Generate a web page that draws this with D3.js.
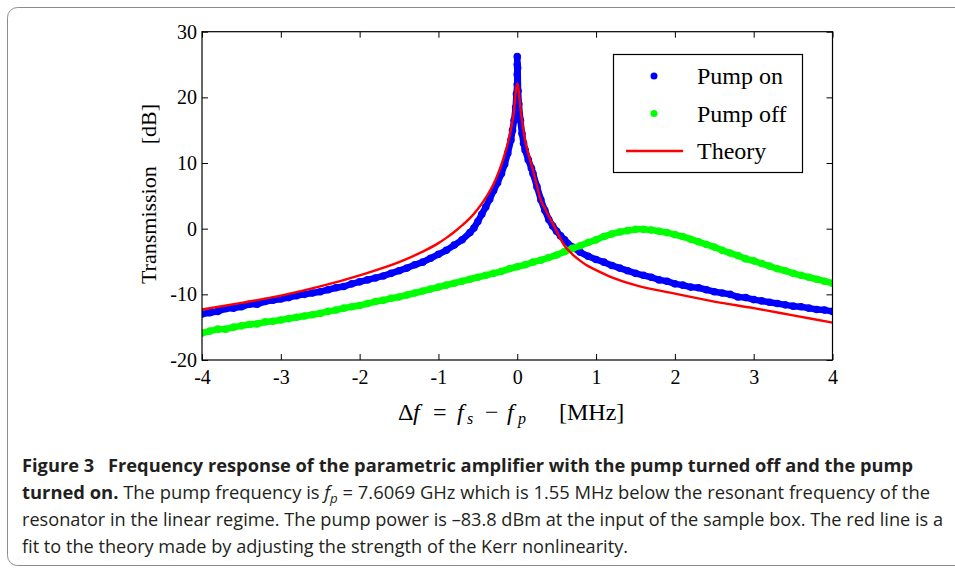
<!DOCTYPE html>
<html>
<head>
<meta charset="utf-8">
<script src="https://cdn.jsdelivr.net/npm/d3@7"></script>
<style>
  body { margin: 0; background: #fff; }
  svg { display: block; }
  .tick text { font-family: "Liberation Serif", "DejaVu Serif", serif; font-size: 20px; fill: #000; }
  .tick line { stroke: #000; }
</style>
</head>
<body>
<svg id="chart"></svg>
<script>
// tick values
const xTicks = [-4, -3, -2, -1, 0, 1, 2, 3, 4];
const yTicks = [-20, -10, 0, 10, 20, 30];

// Pump on (measured), frequency offset in MHz and transmission in dB
const pumpOnFreq = [-4.0, -3.9, -3.8, -3.7, -3.6, -3.5, -3.4, -3.3, -3.2, -3.1, -3.0, -2.9, -2.8, -2.7, -2.6, -2.5, -2.4, -2.3, -2.2, -2.1,
  -2.0, -1.9, -1.8, -1.7, -1.6, -1.5, -1.4, -1.3, -1.2, -1.1, -1.0, -0.9, -0.8, -0.7, -0.6, -0.55, -0.5, -0.45, -0.4, -0.35,
  -0.3, -0.25, -0.2, -0.16, -0.12, -0.08, -0.06, -0.04, -0.02, -0.01, 0, 0, 0, 0, 0.005, 0.01, 0.02, 0.04, 0.06, 0.08,
  0.1, 0.14, 0.18, 0.2, 0.25, 0.3, 0.35, 0.4, 0.45, 0.5, 0.55, 0.6, 0.7, 0.8, 0.9, 1.0, 1.1, 1.2, 1.3, 1.4,
  1.5, 1.6, 1.7, 1.8, 1.9, 2.0, 2.1, 2.2, 2.3, 2.4, 2.5, 2.6, 2.7, 2.8, 2.9, 3.0, 3.1, 3.2, 3.3, 3.4,
  3.5, 3.6, 3.7, 3.8, 3.9, 4.0];
const pumpOnDb = [-13.0, -12.8, -12.6, -12.2, -12.1, -11.9, -11.5, -11.5, -11.1, -10.9, -10.7, -10.5, -10.2, -10.0, -9.8, -9.6, -9.3, -9.0, -8.8, -8.4,
  -8.1, -7.8, -7.5, -7.2, -6.8, -6.4, -6.0, -5.5, -5.1, -4.5, -3.9, -3.3, -2.5, -1.7, -0.6, 0.1, 1.1, 2.2, 3.3, 4.5,
  5.8, 7.0, 8.4, 9.8, 11.5, 13.5, 15.0, 16.5, 18.5, 20.5, 22.0, 23.5, 25.0, 26.2, 24.5, 21.0, 19.0, 16.5, 14.5, 13.0,
  12.0, 10.5, 9.2, 8.4, 6.4, 4.4, 2.8, 1.4, 0.4, -0.4, -1.1, -1.7, -2.8, -3.6, -4.2, -4.7, -5.1, -5.6, -6.0, -6.4,
  -6.8, -7.1, -7.4, -7.8, -8.0, -8.4, -8.6, -8.9, -9.0, -9.3, -9.6, -9.8, -10.0, -10.4, -10.5, -10.8, -11.0, -11.2, -11.4, -11.6,
  -11.8, -11.9, -12.1, -12.3, -12.4, -12.6];

// Pump off (measured)
const pumpOffFreq = [-4.0, -3.9, -3.8, -3.7, -3.6, -3.5, -3.4, -3.3, -3.2, -3.1, -3.0, -2.9, -2.8, -2.7, -2.6, -2.5, -2.4, -2.3, -2.2, -2.1,
  -2.0, -1.9, -1.8, -1.7, -1.6, -1.5, -1.4, -1.3, -1.2, -1.1, -1.0, -0.9, -0.8, -0.7, -0.6, -0.5, -0.4, -0.3, -0.2, -0.1,
  0.0, 0.1, 0.2, 0.3, 0.4, 0.5, 0.6, 0.7, 0.8, 0.9, 1.0, 1.1, 1.2, 1.3, 1.4, 1.5, 1.6, 1.7, 1.8, 1.9,
  2.0, 2.1, 2.2, 2.3, 2.4, 2.5, 2.6, 2.7, 2.8, 2.9, 3.0, 3.1, 3.2, 3.3, 3.4, 3.5, 3.6, 3.7, 3.8, 3.9, 4.0];
const pumpOffDb = [-15.9, -15.6, -15.3, -15.3, -15.0, -14.8, -14.6, -14.5, -14.2, -14.1, -13.9, -13.7, -13.5, -13.3, -13.1, -12.9, -12.6, -12.4, -12.1, -11.9,
  -11.7, -11.4, -11.1, -10.9, -10.6, -10.4, -10.1, -9.8, -9.5, -9.2, -8.9, -8.6, -8.3, -8.0, -7.7, -7.4, -7.1, -6.8, -6.5, -6.1,
  -5.8, -5.5, -5.1, -4.8, -4.4, -4.0, -3.5, -3.0, -2.6, -2.1, -1.7, -1.2, -0.8, -0.5, -0.3, -0.1, -0.1, -0.2, -0.4, -0.6,
  -0.9, -1.2, -1.6, -2.0, -2.4, -2.8, -3.3, -3.7, -4.1, -4.6, -4.9, -5.3, -5.7, -6.1, -6.4, -6.8, -7.1, -7.4, -7.7, -8.0, -8.3];

// Theory fit
const theoryFreq = [-4.0, -3.5, -3.0, -2.5, -2.0, -1.5, -1.2, -1.0, -0.9, -0.8, -0.7, -0.6, -0.5, -0.4, -0.3, -0.25, -0.2, -0.15, -0.1, -0.05,
  0, 0.05, 0.1, 0.15, 0.2, 0.25, 0.3, 0.35, 0.4, 0.45, 0.5, 0.55, 0.6, 0.7, 0.8, 0.9, 1.0, 1.2, 1.5, 2.0,
  2.5, 3.0, 3.5, 4.0];
const theoryDb = [-12.3, -11.3, -10.2, -8.8, -7.1, -5.1, -3.5, -2.2, -1.4, -0.5, 0.5, 1.6, 3.0, 4.7, 6.8, 8.2, 9.8, 11.7, 14.0, 17.1,
  22.1, 17.3, 13.4, 11.0, 8.9, 6.5, 4.3, 3.1, 1.9, 0.8, -0.4, -1.6, -2.6, -3.9, -4.9, -5.7, -6.3, -7.4, -8.6, -9.9,
  -11.1, -12.1, -13.2, -14.3];

const legendLabels = ["Pump on", "Pump off", "Theory"];

const width = 955, height = 568;
const svg = d3.select('#chart')
  .attr('width', width)
  .attr('height', height);

// outer figure frame
svg.append('rect')
  .attr('x', 7.5).attr('y', 7.5)
  .attr('width', 960).attr('height', 558)
  .attr('rx', 10)
  .attr('fill', 'none')
  .attr('stroke', '#8c8c8c')
  .attr('stroke-width', 1);

const plot = { left: 202, right: 832.5, top: 31.7, bottom: 360 };

const x = d3.scaleLinear().domain([-4, 4]).range([plot.left, plot.right]);
const y = d3.scaleLinear().domain([-20, 30]).range([plot.bottom, plot.top]);

const fmt = d => d < 0 ? '-' + Math.abs(d) : String(d);

// axes with inward ticks on all four sides
svg.append('g')
  .attr('transform', `translate(0,${plot.bottom})`)
  .call(d3.axisBottom(x).tickValues(xTicks).tickSize(-6).tickPadding(10).tickFormat(fmt))
  .call(g => g.select('.domain').remove());
svg.append('g')
  .attr('transform', `translate(0,${plot.top})`)
  .call(d3.axisTop(x).tickValues(xTicks).tickSize(-6).tickFormat(''))
  .call(g => g.select('.domain').remove());
svg.append('g')
  .attr('transform', `translate(${plot.left},0)`)
  .call(d3.axisLeft(y).tickValues(yTicks).tickSize(-6).tickPadding(5).tickFormat(fmt))
  .call(g => g.select('.domain').remove());
svg.append('g')
  .attr('transform', `translate(${plot.right},0)`)
  .call(d3.axisRight(y).tickValues(yTicks).tickSize(-6).tickFormat(''))
  .call(g => g.select('.domain').remove());

svg.selectAll('.tick text').attr('font-family', null).attr('font-size', null);

// data layers
svg.append('clipPath').attr('id', 'clip')
  .append('rect')
  .attr('x', plot.left).attr('y', plot.top)
  .attr('width', plot.right - plot.left).attr('height', plot.bottom - plot.top);

const layer = svg.append('g').attr('clip-path', 'url(#clip)');

function drawSeries(freq, db, color) {
  const pts = freq.map((f, i) => [f, db[i]]);
  layer.append('path')
    .datum(pts)
    .attr('fill', 'none')
    .attr('stroke', color)
    .attr('stroke-width', 6.5)
    .attr('stroke-linejoin', 'round')
    .attr('stroke-linecap', 'round')
    .attr('d', d3.line().x(d => x(d[0])).y(d => y(d[1])));
  layer.append('g')
    .selectAll('circle')
    .data(pts)
    .enter().append('circle')
    .attr('cx', d => x(d[0]))
    .attr('cy', d => y(d[1]))
    .attr('r', 3.8)
    .attr('fill', color);
}

drawSeries(pumpOnFreq, pumpOnDb, '#0000ff');
drawSeries(pumpOffFreq, pumpOffDb, '#00ff00');

layer.append('path')
  .datum(theoryFreq.map((f, i) => [f, theoryDb[i]]))
  .attr('fill', 'none')
  .attr('stroke', '#ff0000')
  .attr('stroke-width', 2.4)
  .attr('d', d3.line().x(d => x(d[0])).y(d => y(d[1])).curve(d3.curveMonotoneX));

// plot box
svg.append('rect')
  .attr('x', plot.left).attr('y', plot.top)
  .attr('width', plot.right - plot.left).attr('height', plot.bottom - plot.top)
  .attr('fill', 'none')
  .attr('stroke', '#000')
  .attr('stroke-width', 1.2);

// axis titles
const serif = '"Liberation Serif", "DejaVu Serif", serif';
svg.append('text')
  .attr('transform', 'translate(156,194) rotate(-90)')
  .attr('text-anchor', 'middle')
  .attr('font-family', serif)
  .attr('font-size', 22)
  .text('Transmission\u2003[dB]');

// x title, pieces placed like the typeset formula
const xt = svg.append('text')
  .attr('y', 420)
  .attr('font-family', serif)
  .attr('font-size', 24);
xt.append('tspan').attr('x', 398).text('\u0394');
xt.append('tspan').attr('x', 413).attr('font-style', 'italic').text('f');
xt.append('tspan').attr('x', 433).text('=');
xt.append('tspan').attr('x', 457).attr('font-style', 'italic').text('f');
xt.append('tspan').attr('x', 467).attr('font-style', 'italic').attr('font-size', 16).attr('dy', 4).text('s');
xt.append('tspan').attr('x', 485).attr('dy', -4).text('\u2212');
xt.append('tspan').attr('x', 507).attr('font-style', 'italic').text('f');
xt.append('tspan').attr('x', 518).attr('font-style', 'italic').attr('font-size', 16).attr('dy', 4).text('p');
xt.append('tspan').attr('x', 559).attr('dy', -4).text('[MHz]');

// legend
const legend = svg.append('g');
legend.append('rect')
  .attr('x', 613.5).attr('y', 54.5)
  .attr('width', 189).attr('height', 118)
  .attr('fill', '#fff')
  .attr('stroke', '#000')
  .attr('stroke-width', 1.2);
const legendColors = ['#0000ff', '#00ff00', '#ff0000'];
legendLabels.forEach((label, i) => {
  const cy = 76 + i * 37.5;
  if (i < 2) {
    legend.append('circle').attr('cx', 654).attr('cy', cy).attr('r', 3.5).attr('fill', legendColors[i]);
  } else {
    legend.append('line').attr('x1', 626).attr('x2', 683).attr('y1', cy).attr('y2', cy)
      .attr('stroke', legendColors[i]).attr('stroke-width', 2.4);
  }
  legend.append('text')
    .attr('x', 697).attr('y', cy + 8)
    .attr('font-family', serif)
    .attr('font-size', 24)
    .text(label);
});

// caption
const sans = '"Liberation Sans Narrow", "Open Sans", "Noto Sans", sans-serif';
const capColor = '#231f20';
svg.append('text')
  .attr('x', 22).attr('y', 472)
  .attr('font-family', sans).attr('font-size', 18).attr('fill', capColor)
  .attr('font-weight', 'bold')
  .attr('textLength', 891).attr('lengthAdjust', 'spacingAndGlyphs')
  .text('Figure 3\u2002 Frequency response of the parametric amplifier with the pump turned off and the pump');

const c2 = svg.append('text')
  .attr('x', 22).attr('y', 499)
  .attr('font-family', sans).attr('font-size', 18).attr('fill', capColor)
  .attr('textLength', 908).attr('lengthAdjust', 'spacingAndGlyphs');
c2.append('tspan').attr('font-weight', 'bold').text('turned on.');
c2.append('tspan').text(' The pump frequency is ');
c2.append('tspan').attr('font-style', 'italic').text('f');
c2.append('tspan').attr('font-style', 'italic').attr('font-size', 13).attr('dy', 4).text('p');
c2.append('tspan').attr('dy', -4).text(' = 7.6069 GHz which is 1.55 MHz below the resonant frequency of the');

svg.append('text')
  .attr('x', 22).attr('y', 526)
  .attr('font-family', sans).attr('font-size', 18).attr('fill', capColor)
  .attr('textLength', 921).attr('lengthAdjust', 'spacingAndGlyphs')
  .text('resonator in the linear regime. The pump power is \u201383.8 dBm at the input of the sample box. The red line is a');

svg.append('text')
  .attr('x', 22).attr('y', 553)
  .attr('font-family', sans).attr('font-size', 18).attr('fill', capColor)
  .attr('textLength', 606).attr('lengthAdjust', 'spacingAndGlyphs')
  .text('fit to the theory made by adjusting the strength of the Kerr nonlinearity.');
</script>
</body>
</html>
